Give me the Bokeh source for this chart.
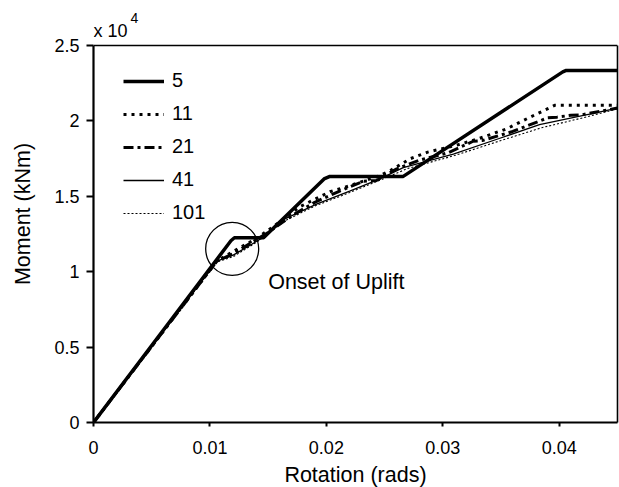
from bokeh.plotting import figure
from bokeh.models import (FixedTicker, Legend, LegendItem, Label, Range1d, Span,
                          LinearAxis)
from bokeh.embed import file_html
from bokeh.resources import INLINE

FONT = "Liberation Sans"

# ---- data (rotation in rads, moment in kNm) ----
x_5 = [0, 0.0118, 0.0121, 0.0146, 0.0198, 0.0203, 0.0266, 0.0403, 0.0406, 0.045]
y_5 = [0, 12050, 12250, 12250, 16150, 16320, 16320, 23250, 23350, 23350]

x_11 = [0, 0.0106, 0.012, 0.014, 0.016, 0.0177, 0.0203, 0.022, 0.0245, 0.0255, 0.0272,
        0.0287, 0.031, 0.033, 0.0355, 0.0375, 0.0396, 0.045]
y_11 = [0, 10700, 11350, 12200, 13300, 14300, 15300, 15700, 16350, 16710, 17490,
        17930, 18350, 18800, 19480, 20250, 21030, 21030]

x_21 = [0, 0.0106, 0.012, 0.0135, 0.015, 0.017, 0.019, 0.021, 0.0232, 0.0243, 0.026,
        0.028, 0.0305, 0.0326, 0.0334, 0.036, 0.039, 0.0398, 0.041, 0.0419, 0.045]
y_21 = [0, 10700, 11200, 11900, 12600, 13700, 14600, 15300, 16000, 16050, 16800,
        17400, 17900, 18650, 18700, 19300, 20200, 20250, 20370, 20400, 20850]

x_41 = [0, 0.0106, 0.012, 0.0143, 0.0163, 0.0192, 0.022, 0.0246, 0.0266, 0.0309,
        0.0349, 0.0383, 0.0426, 0.045]
y_41 = [0, 10700, 11100, 12150, 13450, 14500, 15350, 16150, 16900, 17800,
        18850, 19750, 20450, 20850]

x_101 = [0, 0.0106, 0.012, 0.014, 0.0165, 0.019, 0.022, 0.025, 0.027, 0.031,
         0.035, 0.0385, 0.042, 0.045]
y_101 = [0, 10650, 11000, 11950, 13400, 14350, 15250, 16200, 16850, 17700,
         18700, 19550, 20200, 20800]

series_names = ["5", "11", "21", "41", "101"]

x_ticks = [0, 0.01, 0.02, 0.03, 0.04]
x_tick_labels = ["0", "0.01", "0.02", "0.03", "0.04"]
y_ticks = [0, 5000, 10000, 15000, 20000, 25000]
y_tick_labels = ["0", "0.5", "1", "1.5", "2", "2.5"]

X_MAX = 0.045
Y_MAX = 25000

onset_x, onset_y = 0.01191, 11514
onset_text = "Onset of Uplift"

# frame: 524 x 377 px for the data box; extra room above for the exponent label
FRAME_W, BOX_H, EXTRA_TOP = 524, 377, 40
y_per_px = Y_MAX / BOX_H
x_per_px = X_MAX / FRAME_W

p = figure(frame_width=FRAME_W, frame_height=BOX_H + EXTRA_TOP,
           output_backend="svg", toolbar_location=None, title=None,
           x_range=Range1d(0, X_MAX), y_range=Range1d(0, Y_MAX + EXTRA_TOP * y_per_px),
           min_border_left=93, min_border_right=2, min_border_top=5, min_border_bottom=65)

p.xgrid.visible = False
p.ygrid.visible = False
p.outline_line_color = None
p.background_fill_color = "white"
p.border_fill_color = "white"

for ax in (p.xaxis[0], p.yaxis[0]):
    ax.axis_line_width = 2.2
    ax.axis_line_color = "black"
    ax.major_tick_line_width = 2
    ax.major_tick_in = 0
    ax.minor_tick_line_color = None
    ax.major_label_text_font = FONT
    ax.major_label_text_font_size = "18px"
    ax.major_label_text_color = "black"
    ax.axis_label_text_font = FONT
    ax.axis_label_text_font_style = "normal"
    ax.axis_label_text_font_size = "21.5px"
    ax.axis_label_text_color = "black"

p.xaxis.ticker = FixedTicker(ticks=x_ticks)
p.xaxis.major_label_overrides = dict(zip(x_ticks, x_tick_labels))
p.xaxis.major_tick_out = 4
p.xaxis.major_label_standoff = 14
p.xaxis.axis_label = "Rotation (rads)"
p.xaxis.axis_label_standoff = 6

p.yaxis.ticker = FixedTicker(ticks=y_ticks)
p.yaxis.major_label_overrides = dict(zip(y_ticks, y_tick_labels))
p.yaxis.major_tick_out = 7
p.yaxis.major_label_standoff = 7
p.yaxis.axis_label = "Moment (kNm)"
p.yaxis.axis_label_standoff = 16
p.yaxis.bounds = (0, Y_MAX)

# box: top line and right line, stopping at the top of the data area
p.add_layout(Span(location=Y_MAX, dimension="width", line_color="black", line_width=1.6))
right_ax = LinearAxis(ticker=FixedTicker(ticks=[]), bounds=(0, Y_MAX),
                      axis_line_width=1.6, axis_line_color="black",
                      major_tick_line_color=None, minor_tick_line_color=None,
                      major_label_text_font_size="0px")
p.add_layout(right_ax, "right")

r5 = p.line(x_5, y_5, line_color="black", line_width=3.5)
r11 = p.line(x_11, y_11, line_color="black", line_width=3, line_dash="3 5")
r21 = p.line(x_21, y_21, line_color="black", line_width=3, line_dash="10 4 3 4")
r41 = p.line(x_41, y_41, line_color="black", line_width=1.3)
r101 = p.line(x_101, y_101, line_color="black", line_width=1.1, line_dash="2 2")

p.scatter([onset_x], [onset_y], marker="circle", size=53, fill_alpha=0,
          line_color="black", line_width=1.3)

p.add_layout(Label(x=0.0150, y=9340, text=onset_text, text_font=FONT,
                   text_font_size="21.5px", text_color="black",
                   text_baseline="alphabetic"))

# exponent label "x 10^4" above the top-left corner
p.add_layout(Label(x=0, y=Y_MAX + 15 * y_per_px, text="x 10", text_font=FONT,
                   text_font_size="18px", text_color="black", text_baseline="alphabetic"))
p.add_layout(Label(x=37 * x_per_px, y=Y_MAX + 28 * y_per_px, text="4", text_font=FONT,
                   text_font_size="14px", text_color="black", text_baseline="alphabetic"))

items = [LegendItem(label=n, renderers=[r]) for n, r in
         zip(series_names, [r5, r11, r21, r41, r101])]
legend = Legend(items=items, location=(25, 193), padding=5,
                glyph_width=41, glyph_height=20, label_standoff=8, spacing=10,
                label_text_font=FONT, label_text_font_size="20px",
                label_text_color="black", border_line_alpha=0,
                background_fill_alpha=0)
p.add_layout(legend)

open("out.html", "w").write(file_html(p, INLINE))
